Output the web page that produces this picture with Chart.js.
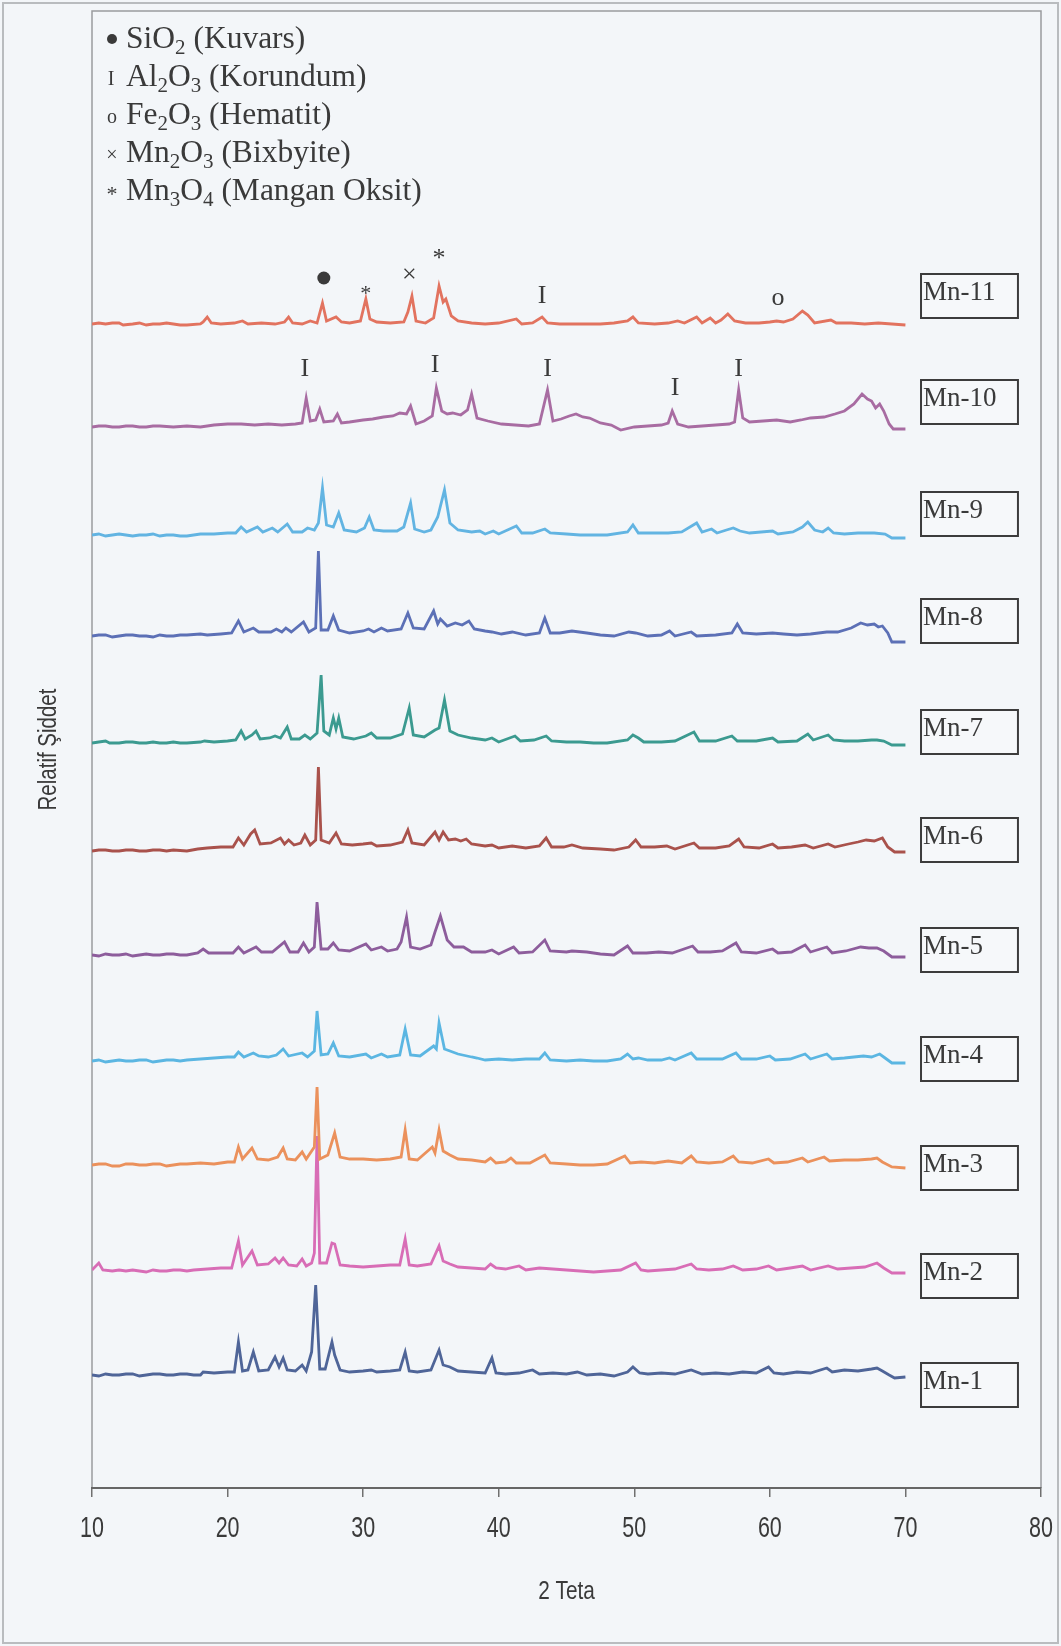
<!DOCTYPE html>
<html>
<head>
<meta charset="utf-8">
<script src="https://cdn.jsdelivr.net/npm/chart.js@4.4.0/dist/chart.umd.min.js"></script>
<style>
  html, body { margin: 0; padding: 0; background: #f3f6f9; }
  #wrap { width: 1061px; height: 1646px; }
</style>
</head>
<body>
<div id="wrap"><canvas id="xrdChart" width="1061" height="1646"></canvas></div>
<script>
// stacked XRD patterns, one per sample
var seriesNames = ['Mn-1','Mn-2','Mn-3','Mn-4','Mn-5','Mn-6','Mn-7','Mn-8','Mn-9','Mn-10','Mn-11'];
var seriesColors = ['#4f6598','#d86db6','#eb915c','#5bb6e2','#8d5d9c','#a9524c','#3b9a90','#5c70b6','#62b4e2','#a86ca2','#e2735f'];
var baseOffset = [113, 217, 323, 427, 533, 638, 745, 852, 953, 1062, 1164];
var labelBoxY = [103, 212, 320, 429, 538, 648, 756, 867, 974, 1086, 1192];
var xTicks = [10, 20, 30, 40, 50, 60, 70, 80];

var mn1 = [[10,0],[10.5,-1],[11,1],[11.5,0],[12,0],[12.5,1],[13,1],[13.5,-1],[14,0],[14.5,1],[15,1],[15.5,0],[16,0],[16.5,1],[17,1],[17.5,0],[18,0],[18.2,3],[19,2],[20,3],[20.5,3],[20.8,33],[21.1,4],[21.5,5],[21.9,23],[22.3,4],[23,5],[23.5,18],[23.8,8],[24.1,17],[24.4,5],[25,4],[25.5,10],[25.8,4],[26.2,23],[26.5,90],[26.8,6],[27.2,6],[27.7,33],[27.9,20],[28.3,5],[29,3],[30,4],[30.6,5],[31,3],[32,4],[32.7,5],[33.1,23],[33.4,4],[34,3],[35,5],[35.6,25],[35.9,10],[36.4,8],[37,4],[38,3],[39,2],[39.5,17],[39.8,2],[40.5,1],[41.5,2],[42.5,5],[43,1],[44,2],[45,1],[45.8,3],[46.5,0],[47.5,1],[48.5,-1],[49.5,3],[49.9,8],[50.4,2],[51,1],[52,2],[53,1],[54.2,5],[55,1],[56,2],[57,1],[58,3],[59,2],[59.9,8],[60.3,2],[61,1],[62,3],[63,2],[64.2,7],[64.6,3],[65.5,5],[66.5,4],[67.5,6],[67.9,7],[68.3,4],[68.8,0],[69.2,-3],[70,-2]];
var mn2 = [[10,1],[10.5,8],[10.8,1],[11.5,0],[12,1],[12.5,0],[13,1],[13.5,0],[14,-1],[14.5,1],[15,0],[15.5,0],[16,1],[16.5,1],[17,0],[17.5,1],[18.5,2],[19.5,3],[20.3,3],[20.8,30],[21.1,6],[21.8,20],[22.2,6],[23,7],[23.5,13],[23.8,8],[24.1,13],[24.5,6],[25.1,5],[25.5,12],[25.8,5],[26.2,8],[26.4,18],[26.6,135],[26.8,8],[27.3,8],[27.7,28],[27.9,27],[28.3,6],[29,5],[30,4],[31,5],[32,6],[32.7,6],[33.1,32],[33.4,6],[34,5],[35,7],[35.6,25],[35.9,10],[36.4,7],[37,4],[38,3],[39,2],[39.4,7],[39.8,3],[40.5,2],[41.5,5],[42,1],[43,3],[44,2],[45,1],[46,0],[47,-1],[48,0],[49,1],[50.1,8],[50.5,1],[51,0],[52,1],[53,2],[54.2,7],[54.6,2],[55.5,1],[56.5,2],[57.3,5],[58,1],[59,2],[59.9,5],[60.5,1],[61.5,3],[62.4,5],[63,1],[64.3,5],[65,2],[66,3],[67,4],[67.9,8],[68.4,3],[69,-2],[70,-2]];
var mn3 = [[10,0],[10.5,1],[11,1],[11.5,-1],[12,-1],[12.5,1],[13,1],[13.5,0],[14,0],[14.5,1],[15,1],[15.5,-1],[16,0],[16.5,1],[17,1],[18,2],[19,1],[20,3],[20.5,3],[20.8,18],[21.1,6],[21.8,17],[22.2,6],[23,5],[23.7,8],[24.1,17],[24.4,6],[25,5],[25.5,13],[25.8,6],[26.4,18],[26.6,78],[26.8,6],[27.4,10],[27.9,32],[28.3,8],[29,6],[30,6],[31,5],[32,6],[32.8,8],[33.1,35],[33.4,6],[34,5],[35.1,18],[35.3,12],[35.6,35],[35.9,14],[36.4,10],[37,6],[38,5],[39,3],[39.4,7],[39.8,2],[40.5,3],[40.9,7],[41.3,2],[42.3,2],[43.4,10],[43.8,2],[45,1],[46,0],[47,0],[48,1],[49.3,9],[49.7,2],[50.5,3],[51.5,2],[52.5,4],[53.5,2],[54.2,9],[54.6,3],[55.5,2],[56.5,3],[57.3,9],[57.7,3],[58.7,2],[59.9,6],[60.3,2],[61.3,3],[62.4,7],[62.8,3],[64,8],[64.4,4],[65.5,5],[66.5,5],[67.5,6],[67.9,7],[68.3,3],[69,-2],[70,-3]];
var mn4 = [[10,0],[10.5,1],[11,-1],[11.5,0],[12,1],[12.5,0],[13,0],[13.5,1],[14,1],[14.5,-1],[15,0],[15.5,1],[16,1],[16.5,0],[17,1],[18,2],[19,3],[20,4],[20.5,4],[20.8,9],[21.2,4],[21.9,8],[22.3,5],[23,4],[23.6,6],[24.1,12],[24.5,5],[25.5,8],[25.9,4],[26.4,10],[26.6,50],[26.9,6],[27.4,7],[27.8,18],[28.2,5],[29,4],[30.2,7],[30.6,3],[31.35,7],[31.8,4],[32.7,6],[33.1,32],[33.5,6],[34.2,5],[35.2,15],[35.4,12],[35.6,38],[36,12],[36.4,10],[37,7],[38,4],[38.4,3],[39,1],[40,2],[41,1],[42,2],[43,2],[43.4,8],[43.8,1],[45,0],[46,1],[47,0],[48,0],[49,2],[49.5,7],[49.9,2],[50.3,3],[51,1],[52,1],[52.6,3],[53,1],[54.2,8],[54.6,2],[55.5,2],[56.5,2],[57.5,8],[57.9,2],[59,2],[60,5],[60.4,1],[61.5,2],[62.6,7],[63,2],[64.2,7],[64.6,2],[65.5,3],[66.9,5],[67.5,4],[68.1,7],[68.5,3],[69,-2],[70,-2]];
var mn5 = [[10,0],[10.5,-1],[11,1],[11.5,0],[12,0],[12.5,1],[13,-1],[13.5,0],[14,1],[14.5,0],[15,0],[15.5,1],[16,1],[16.5,0],[17,0],[17.8,2],[18.2,6],[18.6,2],[19.5,2],[20.4,2],[20.8,8],[21.2,2],[22.1,8],[22.5,3],[23.3,3],[24.2,13],[24.6,3],[25.2,3],[25.6,12],[26,3],[26.4,8],[26.6,53],[26.9,6],[27.4,6],[27.8,12],[28.2,5],[29,4],[30.2,11],[30.6,5],[31.35,8],[31.8,4],[32.5,6],[32.8,13],[33.2,38],[33.5,8],[34.2,6],[35,10],[35.3,23],[35.7,39],[36.2,15],[36.7,8],[37.4,8],[38,3],[39,3],[39.5,5],[40,1],[41.1,8],[41.5,2],[42.5,3],[43.4,15],[43.8,4],[45,3],[45.4,4],[46.5,3],[47.5,1],[48.5,0],[49.5,9],[49.9,2],[50.9,2],[51.8,3],[52.8,2],[54.3,9],[54.7,3],[55.6,3],[56.5,4],[57.5,12],[57.9,3],[59,2],[60.2,6],[60.6,2],[61.6,3],[62.6,10],[63,3],[64.2,8],[64.6,2],[65.6,4],[66.7,8],[67.3,7],[67.9,7],[68.4,4],[69,-2],[70,-2]];
var mn6 = [[10,-1],[10.5,0],[11,0],[11.5,-1],[12,-1],[12.5,0],[13,0],[13.5,-1],[14,-1],[14.5,0],[15,0],[15.5,-1],[16,0],[17,-1],[17.8,1],[18.5,2],[19.5,3],[20.4,3],[20.8,12],[21.2,5],[21.7,16],[22,20],[22.4,6],[23.2,7],[23.9,12],[24.2,6],[24.5,10],[24.9,5],[25.4,7],[25.7,15],[26.1,5],[26.5,10],[26.7,83],[26.9,10],[27.5,7],[28,17],[28.4,6],[29.2,5],[30,6],[30.6,7],[31,4],[32,5],[32.9,8],[33.3,20],[33.6,7],[34.5,5],[35.3,18],[35.6,10],[35.9,18],[36.3,10],[36.8,11],[37.2,9],[37.6,11],[38,6],[39,4],[39.5,5],[40,2],[41,4],[42,2],[43,4],[43.5,12],[43.9,3],[44.8,3],[45.4,5],[46.2,2],[47.5,1],[48.5,0],[49.6,3],[50.1,10],[50.5,3],[51.5,3],[52.4,4],[53,1],[54.4,7],[54.8,2],[56,2],[57,4],[57.7,11],[58.1,3],[59.2,2],[60.2,6],[60.6,2],[61.6,3],[62.6,5],[63.2,2],[64.3,6],[64.8,3],[65.8,6],[66.5,8],[67.1,10],[67.7,9],[68.3,12],[68.7,3],[69.2,-2],[70,-2]];
var mn7 = [[10,0],[10.5,1],[11,2],[11.3,0],[12,0],[12.5,1],[13,1],[13.5,0],[14,0],[14.5,1],[15,0],[15.5,0],[16,1],[16.5,0],[17,0],[18,1],[18.3,2],[19,1],[20,2],[20.6,3],[21,12],[21.3,4],[21.8,8],[22.1,12],[22.4,4],[23.1,5],[23.5,7],[23.9,5],[24.4,16],[24.7,4],[25.3,4],[25.7,8],[26.1,4],[26.6,10],[26.9,68],[27.1,12],[27.5,8],[27.8,25],[28,14],[28.2,25],[28.5,6],[29.3,4],[30.2,7],[30.6,10],[31,5],[32,5],[32.9,9],[33.4,35],[33.7,8],[34.5,6],[35.3,13],[35.6,15],[36,43],[36.4,12],[37,8],[38,5],[39,3],[39.5,5],[40,1],[41.2,7],[41.6,2],[42.6,3],[43.5,7],[43.9,2],[45,1],[46,1],[47,0],[48,0],[49.5,3],[49.9,8],[50.3,5],[50.7,1],[52,1],[53,2],[54.4,11],[54.8,2],[56,2],[57.2,7],[57.6,2],[59,2],[60.2,5],[60.6,1],[62,2],[62.8,9],[63.2,3],[64.3,8],[64.7,3],[65.5,2],[66.5,2],[67.5,3],[67.9,3],[68.4,2],[69,-2],[70,-2]];
var mn8 = [[10,0],[10.5,1],[11,1],[11.5,-1],[12,0],[12.5,1],[13,1],[13.5,0],[14,0],[14.5,-1],[15,1],[15.5,0],[16,0],[16.5,1],[17,1],[18,2],[18.5,1],[19.5,2],[20.3,3],[20.8,15],[21.2,4],[21.9,8],[22.3,4],[23.2,4],[23.6,7],[24,4],[24.3,8],[24.7,4],[25.6,14],[26,4],[26.5,8],[26.7,85],[26.9,6],[27.4,6],[27.8,20],[28.2,6],[29,3],[30,5],[30.4,7],[30.8,4],[31.35,8],[31.8,5],[32.8,7],[33.3,23],[33.7,8],[34.5,7],[35.2,25],[35.5,12],[35.7,17],[36.2,10],[36.8,13],[37.3,11],[37.8,15],[38.2,7],[39,5],[39.5,4],[40.2,2],[41,4],[42,1],[43,3],[43.4,18],[43.8,3],[44.5,3],[45.4,5],[46.5,3],[47.5,1],[48.5,0],[49.6,4],[50.1,3],[51,0],[52,1],[52.6,5],[53,0],[54.2,4],[54.6,0],[56,1],[57.2,3],[57.6,12],[58,3],[59,2],[60.2,3],[61,2],[62,1],[63,2],[64.2,4],[65,4],[66,8],[66.7,13],[67.2,11],[67.7,12],[68,9],[68.3,10],[68.7,3],[69,-6],[70,-6]];
var mn9 = [[10,0],[10.5,1],[11,-1],[11.5,0],[12,1],[12.5,0],[13,-1],[13.5,0],[14,0],[14.5,1],[15,-1],[15.5,0],[16,0],[16.5,-1],[17,-1],[18,1],[19,1],[20,2],[20.6,2],[21,8],[21.4,3],[22.2,8],[22.6,3],[23.3,7],[23.7,3],[24.4,11],[24.8,3],[25.5,3],[25.9,7],[26.4,5],[26.7,12],[27,47],[27.3,10],[27.8,8],[28.2,22],[28.6,5],[29.5,3],[30.1,7],[30.45,18],[30.8,5],[31.5,4],[32.5,4],[33,8],[33.5,32],[33.8,6],[34.5,3],[35,5],[35.5,18],[36,45],[36.4,12],[37,5],[38,3],[38.6,4],[39,1],[39.6,4],[40,1],[41.3,9],[41.7,2],[42.5,2],[43.4,6],[43.8,2],[45,1],[46,0],[47,0],[48,0],[49.5,3],[49.9,10],[50.3,2],[51.5,2],[52.5,2],[53.5,3],[54.6,12],[55,3],[55.7,6],[56.1,2],[56.8,5],[57.3,7],[57.8,4],[58.5,2],[60.2,4],[60.6,1],[61.7,3],[62.4,8],[62.8,13],[63.3,5],[63.9,3],[64.3,7],[64.7,2],[65.5,1],[66.5,2],[67.7,2],[68.5,1],[69,-3],[70,-3]];
var mn10 = [[10,-1],[10.5,0],[11,0],[11.5,-1],[12,-1],[12.5,0],[13,0],[13.5,-1],[14,-1],[14.5,0],[15,0],[16,-1],[17,0],[18,-1],[19,1],[20,2],[21,2],[22,1],[23,2],[24,1],[25,2],[25.5,3],[25.8,28],[26.1,5],[26.5,6],[26.8,17],[27.1,4],[27.8,5],[28.1,12],[28.4,3],[29,4],[30,6],[30.7,7],[31.5,9],[32.2,10],[32.7,13],[33.2,12],[33.5,20],[33.9,2],[34.5,5],[35.1,10],[35.4,38],[35.8,15],[36.2,12],[36.6,13],[37.2,11],[37.7,16],[38,32],[38.4,8],[39.2,5],[40.2,2],[41.2,1],[42.2,0],[43,2],[43.6,36],[44,5],[44.6,7],[45.2,10],[45.7,12],[46.2,9],[46.7,8],[47.5,3],[48.3,1],[49,-4],[50,-1],[51,0],[52,1],[52.5,3],[52.8,15],[53.2,2],[54,-1],[55,0],[56,1],[57,2],[57.4,4],[57.7,36],[58,8],[58.5,4],[59.5,5],[60.5,6],[61.5,4],[62.3,6],[63,8],[64,9],[64.8,12],[65.5,15],[66.2,22],[66.8,32],[67.2,27],[67.5,25],[67.8,18],[68.1,22],[68.4,15],[68.8,2],[69.1,-3],[70,-3]];
var mn11 = [[10,0],[10.5,1],[11,0],[11.5,1],[12,1],[12.3,-1],[13,0],[13.5,1],[14,-1],[14.5,0],[15,0],[15.5,1],[16,0],[16.5,-1],[17,-1],[18,0],[18.2,2],[18.5,7],[18.8,1],[19.5,0],[20.5,1],[21.1,3],[21.5,0],[22.5,1],[23.5,0],[24.2,2],[24.5,7],[24.8,1],[25.5,0],[26.1,3],[26.6,1],[27,21],[27.3,3],[28,7],[28.4,2],[29,1],[29.8,3],[30.2,25],[30.5,5],[31,2],[32,1],[33,2],[33.3,12],[33.6,28],[33.9,3],[34.6,1],[35.2,6],[35.6,38],[35.9,22],[36.1,25],[36.5,8],[37,3],[38,1],[39,0],[40,1],[41.3,5],[41.7,0],[42.5,1],[43.2,7],[43.6,1],[44.5,0],[45.5,0],[46.5,0],[47.5,0],[48.5,1],[49.5,3],[49.9,7],[50.3,1],[51.5,0],[52.5,1],[53.2,3],[53.7,1],[54.6,7],[55,1],[55.6,6],[56,1],[56.4,4],[56.9,10],[57.4,3],[58.2,1],[59.2,1],[60,2],[60.5,3],[61,2],[61.7,5],[62.4,13],[62.8,9],[63.3,1],[64.5,4],[64.9,1],[66,1],[67,0],[68,1],[69,0],[70,-1]];
var seriesData = [mn1, mn2, mn3, mn4, mn5, mn6, mn7, mn8, mn9, mn10, mn11];

// phase legend (top left)
var phaseSymbols = ['\u25CF', 'I', 'o', '\u00D7', '*'];
var phaseNames = ['SiO_2 (Kuvars)', 'Al_2O_3 (Korundum)', 'Fe_2O_3 (Hematit)', 'Mn_2O_3 (Bixbyite)', 'Mn_3O_4 (Mangan Oksit)'];

// peak markers above Mn-11 and Mn-10
var markSym    = ['\u25CF', '*', '\u00D7', '*', 'I', 'o', 'I', 'I', 'I', 'I', 'I'];
var markX      = [27.1, 30.2, 33.4, 35.6, 43.2, 60.6, 25.7, 35.3, 43.6, 53.0, 57.7];
var markSeries = [10, 10, 10, 10, 10, 10, 9, 9, 9, 9, 9];
var markDy     = [46, 36, 49, 71, 28, 26, 57, 61, 57, 38, 57];

var serif = '"Liberation Serif", "Times New Roman", serif';
var sans = '"Liberation Sans", Arial, sans-serif';
var inkColor = '#3a3a3a';

var datasets = [];
for (var i = 0; i < seriesData.length; i++) {
    var pts = [];
    for (var j = 0; j < seriesData[i].length; j++) {
        pts.push({ x: seriesData[i][j][0], y: seriesData[i][j][1] + baseOffset[i] });
    }
    datasets.push({
        label: seriesNames[i],
        data: pts,
        borderColor: seriesColors[i],
        borderWidth: 2.8,
        pointRadius: 0,
        tension: 0,
        fill: false,
        order: (i == 1) ? 5 : 1
    });
}

function drawSubText(ctx, str, x, y, size) {
    // "_" marks a subscript digit
    var cx = x;
    for (var k = 0; k < str.length; k++) {
        var ch = str[k];
        if (ch == '_') {
            k++;
            ctx.font = Math.round(size * 0.68) + 'px ' + serif;
            ctx.fillText(str[k], cx, y + size * 0.2);
            cx += ctx.measureText(str[k]).width;
        } else {
            ctx.font = size + 'px ' + serif;
            ctx.fillText(ch, cx, y);
            cx += ctx.measureText(ch).width;
        }
    }
}

// condensed sans text, like the narrow axis font of the original
function drawNarrow(ctx, txt, x, y, size, squeeze, angle) {
    ctx.save();
    ctx.translate(x, y);
    if (angle) ctx.rotate(angle);
    ctx.scale(squeeze, 1);
    ctx.font = size + 'px ' + sans;
    ctx.textAlign = 'center';
    ctx.textBaseline = 'middle';
    ctx.fillText(txt, 0, 0);
    ctx.restore();
}

var decorPlugin = {
    id: 'decor',
    beforeDraw: function(chart) {
        var ctx = chart.ctx;
        ctx.save();
        ctx.fillStyle = '#f3f6f9';
        ctx.fillRect(0, 0, chart.width, chart.height);
        ctx.strokeStyle = '#b9bcbf';
        ctx.lineWidth = 2;
        ctx.strokeRect(3, 3, chart.width - 6, chart.height - 6);
        var a = chart.chartArea;
        ctx.strokeStyle = '#9a9c9e';
        ctx.lineWidth = 1.5;
        ctx.beginPath();
        ctx.moveTo(a.left, a.bottom);
        ctx.lineTo(a.left, a.top);
        ctx.lineTo(a.right, a.top);
        ctx.lineTo(a.right, a.bottom);
        ctx.stroke();
        ctx.restore();
    },
    afterDraw: function(chart) {
        var ctx = chart.ctx;
        var a = chart.chartArea;
        var xs = chart.scales.x, ys = chart.scales.y;
        ctx.save();
        ctx.fillStyle = inkColor;

        // x tick labels and axis titles
        for (var t = 0; t < xTicks.length; t++) {
            drawNarrow(ctx, String(xTicks[t]), xs.getPixelForValue(xTicks[t]), a.bottom + 41, 29, 0.74, 0);
        }
        drawNarrow(ctx, '2 Teta', (a.left + a.right) / 2, a.bottom + 104, 26, 0.8, 0);
        drawNarrow(ctx, 'Relatif \u015Eiddet', 49, (a.top + a.bottom) / 2, 25, 0.82, -Math.PI / 2);

        // phase legend
        ctx.textBaseline = 'alphabetic';
        for (var p = 0; p < phaseNames.length; p++) {
            var by = a.top + 37 + p * 38;
            ctx.textAlign = 'center';
            if (phaseSymbols[p] == '\u25CF') {
                ctx.beginPath();
                ctx.arc(112, by - 9, 5, 0, Math.PI * 2);
                ctx.fill();
            } else if (phaseSymbols[p] == '*') {
                ctx.font = '22px ' + serif;
                ctx.fillText('*', 112, by + 1);
            } else if (phaseSymbols[p] == 'I') {
                ctx.font = '20px ' + serif;
                ctx.fillText('I', 111, by - 1);
            } else {
                ctx.font = '20px ' + serif;
                ctx.fillText(phaseSymbols[p], 112, by - 1);
            }
            ctx.textAlign = 'left';
            drawSubText(ctx, phaseNames[p], 126, by, 31.5);
        }

        // peak markers
        ctx.textAlign = 'center';
        ctx.textBaseline = 'middle';
        for (var m = 0; m < markSym.length; m++) {
            var px = xs.getPixelForValue(markX[m]);
            var py = ys.getPixelForValue(baseOffset[markSeries[m]] + markDy[m]);
            var s = markSym[m];
            if (s == '\u25CF') {
                ctx.beginPath();
                ctx.arc(px, py, 6.5, 0, Math.PI * 2);
                ctx.fill();
            } else if (s == '*') {
                ctx.font = (markDy[m] > 60 ? 26 : 22) + 'px ' + serif;
                ctx.fillText('*', px, py + 6);
            } else if (s == '\u00D7') {
                ctx.font = '26px ' + serif;
                ctx.fillText('\u00D7', px, py);
            } else {
                ctx.font = '26px ' + serif;
                ctx.fillText(s, px, py);
            }
        }

        // sample name boxes
        var bx0 = xs.getPixelForValue(71.15), bx1 = xs.getPixelForValue(78.3);
        ctx.textAlign = 'left';
        ctx.textBaseline = 'alphabetic';
        ctx.font = '27px ' + serif;
        for (var b = 0; b < seriesNames.length; b++) {
            var cy = ys.getPixelForValue(labelBoxY[b]);
            ctx.fillStyle = '#f6f8fa';
            ctx.fillRect(bx0, cy - 22, bx1 - bx0, 44);
            ctx.strokeStyle = '#3c3c3c';
            ctx.lineWidth = 2;
            ctx.strokeRect(bx0, cy - 22, bx1 - bx0, 44);
            ctx.fillStyle = inkColor;
            ctx.fillText(seriesNames[b], bx0 + 2, cy + 4);
        }
        ctx.restore();
    }
};

var ctx = document.getElementById('xrdChart');
var xrdChart = new Chart(ctx, {
    type: 'line',
    data: { datasets: datasets },
    plugins: [decorPlugin],
    options: {
        responsive: false,
        animation: false,
        layout: { padding: { top: 11, right: 20, left: 92, bottom: 0 } },
        plugins: { legend: { display: false }, tooltip: { enabled: false } },
        scales: {
            x: {
                type: 'linear',
                min: 10,
                max: 80,
                afterBuildTicks: function(scale) {
                    scale.ticks = xTicks.map(function(v) { return { value: v }; });
                },
                afterFit: function(scale) {
                    scale.height = 158;
                    scale.paddingLeft = 0;
                    scale.paddingRight = 0;
                },
                ticks: { display: false },
                grid: { drawOnChartArea: false, drawTicks: true, tickLength: 9, color: '#707070', lineWidth: 1.5 },
                border: { display: true, color: '#666666', width: 2 }
            },
            y: {
                display: false,
                min: 0,
                max: 1477
            }
        }
    }
});
</script>
</body>
</html>
